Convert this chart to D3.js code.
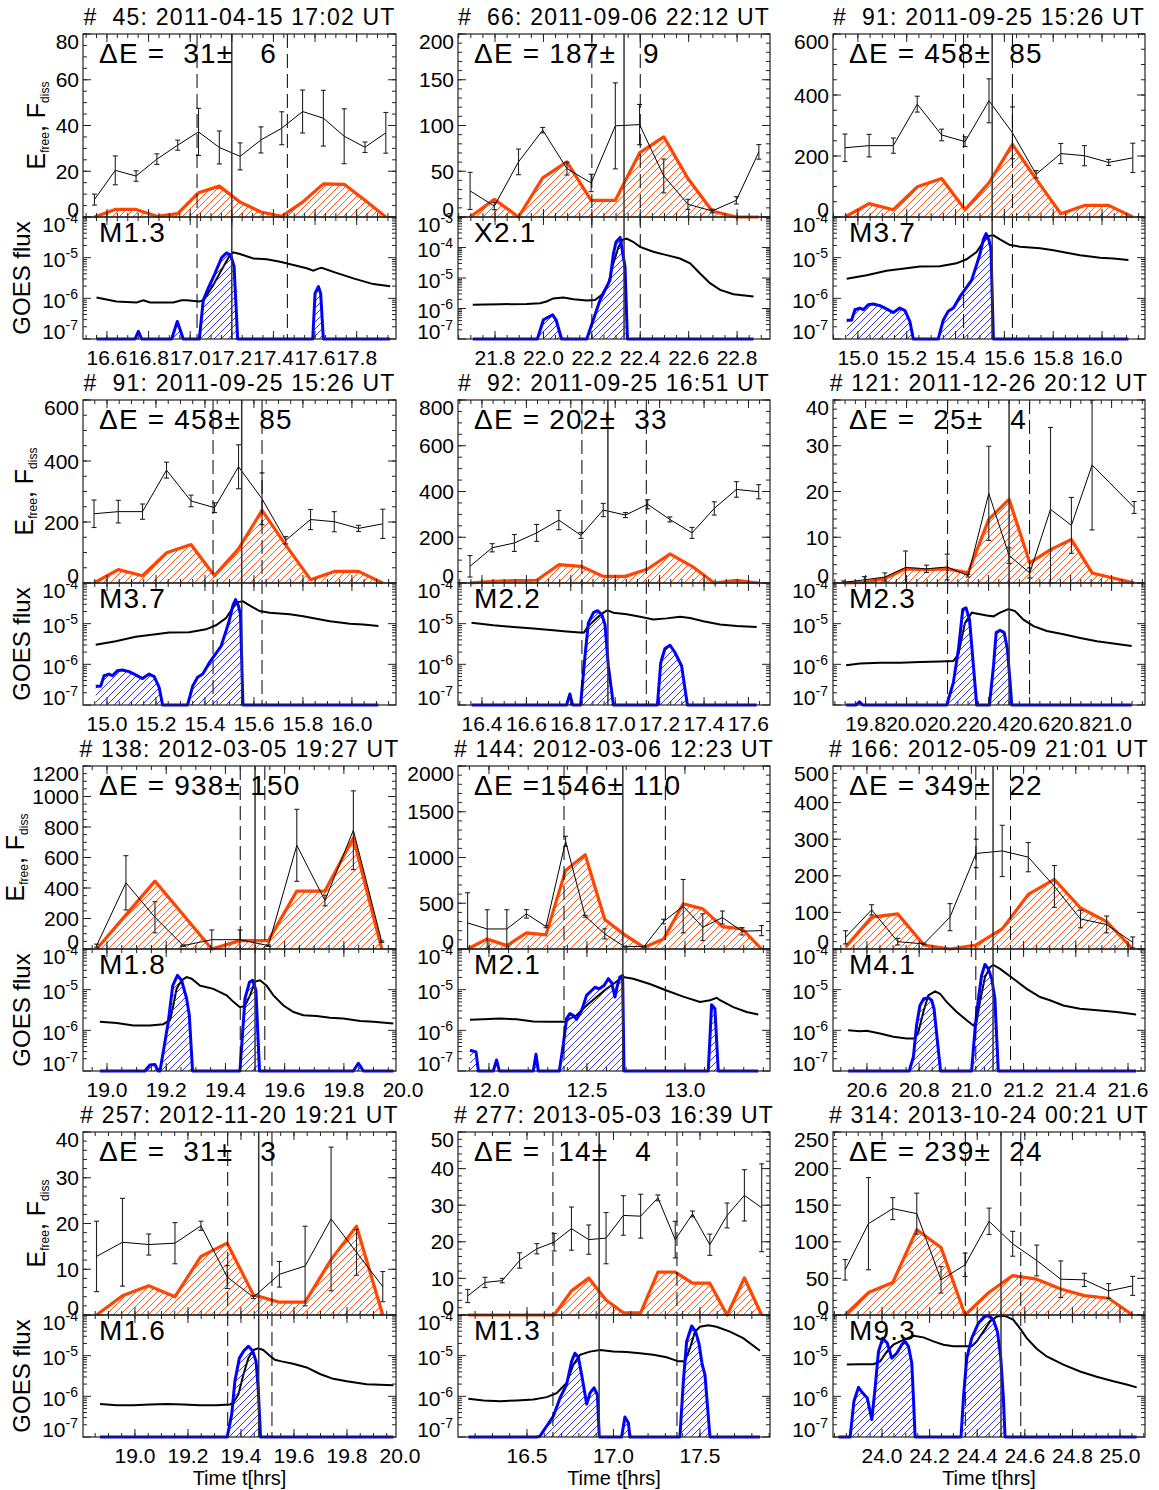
<!DOCTYPE html>
<html>
<head>
<meta charset="utf-8">
<script src="https://cdn.jsdelivr.net/npm/d3@7"></script>
<style>
  body { margin: 0; background: #fff; }
  svg text { font-family: "Liberation Sans", Arial, Helvetica, sans-serif; fill: #000; }
</style>
</head>
<body>
<svg id="chart" width="1159" height="1490"></svg>
<script>
// ---------------------------------------------------------------------------
// Flare events: free energy E_free (with errors), dissipated energy F_diss,
// GOES 1-8 A flux (log10 W m^-2) and its positive time derivative (log10).
// Times are in hours UT.
// ---------------------------------------------------------------------------

// #45  2011-04-15
const tE45 = [16.54,16.64,16.74,16.84,16.94,17.04,17.14,17.24,17.34,17.44,17.54,17.64,17.74,17.84,17.94];
const E45 = [7.6,20.4,17.9,25.3,31.4,37.2,30.4,26.5,33.7,38.8,46.1,43.2,35.3,30.5,36.8];
const Eerr45 = [2.4,6.3,2.3,2.3,2.2,10.3,7.2,5.9,5.7,7.2,9.4,12.2,12.0,2.3,8.9];
const F45 = [0,3.3,3.3,0.3,1.5,10.6,13.5,6.5,2.2,0.3,6.5,14.5,14.3,7.3,0];
const goesT45 = [16.550,16.646,16.743,16.775,16.807,16.919,16.959,16.983,17.044,17.066,17.111,17.151,17.191,17.207,17.239,17.304,17.368,17.432,17.496,17.560,17.592,17.616,17.632,17.688,17.784,17.880,17.961];
const goesL45 = [-5.98,-6.08,-6.10,-6.05,-6.10,-6.10,-6.05,-6.05,-6.08,-6.04,-5.67,-5.30,-4.94,-4.87,-4.91,-5.02,-5.04,-5.10,-5.18,-5.26,-5.32,-5.27,-5.25,-5.35,-5.51,-5.65,-5.70];
const derT45 = [16.550,16.735,16.751,16.767,16.911,16.938,16.967,17.044,17.063,17.087,17.119,17.151,17.175,17.195,17.211,17.219,17.228,17.589,17.600,17.616,17.627,17.640,17.961];
const derL45 = [-7,-7,-6.81,-7,-7,-6.57,-7,-7,-6.04,-5.75,-5.39,-5.00,-4.88,-4.94,-5.22,-6.04,-7,-7,-5.88,-5.71,-5.88,-7,-7];

// #66  2011-09-06
const tE66 = [21.697,21.797,21.897,21.997,22.097,22.197,22.297,22.397,22.497,22.597,22.697,22.797,22.890];
const E66 = [28.5,12.0,60.2,94.9,52.9,37.2,99.6,101,44.9,13.9,6.6,18.2,71.2];
const Eerr66 = [20.3,4,14,3,7,9.5,47,22,18.5,5.5,2,4,8];
const F66 = [0,19.3,0,42.7,60.2,18.2,18.2,70,87.6,42,6.6,0,0];
const goesT66 = [21.708,21.821,21.931,21.986,22.013,22.041,22.082,22.124,22.179,22.213,22.241,22.268,22.289,22.310,22.328,22.344,22.372,22.399,22.454,22.509,22.564,22.606,22.647,22.688,22.730,22.785,22.868];
const goesL66 = [-5.88,-5.86,-5.85,-5.83,-5.77,-5.67,-5.64,-5.70,-5.74,-5.72,-5.55,-5.17,-4.52,-3.98,-3.74,-3.71,-3.82,-3.98,-4.14,-4.25,-4.36,-4.52,-4.85,-5.17,-5.39,-5.53,-5.61];
const derT66 = [21.708,21.975,22.000,22.038,22.052,22.075,22.179,22.206,22.234,22.255,22.275,22.289,22.300,22.317,22.328,22.337,22.347,22.868];
const derL66 = [-7,-7,-6.37,-6.21,-6.37,-7,-7,-6.37,-5.72,-5.39,-5.07,-4.20,-3.82,-3.67,-4.20,-4.63,-7,-7];

// #91  2011-09-25
const tE91 = [14.947,15.046,15.145,15.243,15.343,15.439,15.537,15.633,15.730,15.831,15.928,16.027,16.126];
const E91 = [227,234,234,370,269,247,381,276,140,208,201,179,194];
const Eerr91 = [45,37,25,26,19,16,72,85,12,33,33,10,48];
const F91 = [0,44,24,99,126,24,112,238,124,11,38,38,0];
const goesT91 = [14.954,15.036,15.117,15.199,15.254,15.336,15.404,15.445,15.486,15.514,15.534,15.555,15.582,15.623,15.664,15.746,15.801,15.855,15.910,15.992,16.046,16.108];
const goesL91 = [-5.52,-5.43,-5.32,-5.26,-5.22,-5.21,-5.14,-5.04,-4.86,-4.61,-4.47,-4.45,-4.55,-4.69,-4.73,-4.77,-4.82,-4.88,-4.94,-5.00,-5.02,-5.06];
const derT91 = [14.954,14.974,14.988,15.008,15.022,15.042,15.063,15.090,15.117,15.145,15.172,15.193,15.213,15.227,15.329,15.350,15.370,15.391,15.418,15.445,15.466,15.486,15.500,15.514,15.525,15.536,15.545,15.555,16.108];
const derL91 = [-6.54,-6.54,-6.28,-6.24,-6.28,-6.16,-6.14,-6.18,-6.26,-6.35,-6.24,-6.30,-6.57,-7,-7,-6.53,-6.32,-6.24,-5.96,-5.73,-5.55,-5.18,-4.91,-4.55,-4.41,-4.55,-4.77,-7,-7];

// #92  2011-09-25
const tE92 = [16.346,16.446,16.546,16.646,16.746,16.846,16.946,17.046,17.146,17.246,17.346,17.446,17.546,17.646];
const E92 = [73,154,175,219,275,208,319,297,344,278,219,326,409,399];
const Eerr92 = [47,18,37,37,42,13,29,11,20,11,24,29,34,31];
const F92 = [0,7,10,12,80,73,29,29,61,127,73,0,12,0];
const goesT92 = [16.353,16.451,16.541,16.631,16.721,16.781,16.841,16.859,16.879,16.917,16.947,16.965,16.992,17.052,17.112,17.172,17.232,17.292,17.337,17.397,17.472,17.547,17.637];
const goesL92 = [-4.98,-5.04,-5.08,-5.12,-5.16,-5.19,-5.22,-5.22,-5.06,-4.86,-4.73,-4.67,-4.73,-4.77,-4.83,-4.90,-4.87,-4.83,-4.86,-4.94,-5.02,-5.06,-5.08];
const derT92 = [16.353,16.781,16.796,16.808,16.844,16.864,16.879,16.902,16.920,16.939,16.954,16.969,16.992,17.190,17.205,17.224,17.247,17.269,17.299,17.325,17.637];
const derL92 = [-7,-7,-6.73,-7,-7,-5.79,-4.98,-4.73,-4.68,-4.77,-5.02,-6.04,-7,-7,-5.96,-5.61,-5.53,-5.71,-6.04,-7,-7];

// #121  2011-12-26
const tE121 = [19.692,19.794,19.894,19.995,20.097,20.198,20.300,20.401,20.500,20.601,20.702,20.804,20.905,21.110];
const E121 = [0.15,0.7,1.3,3.4,3.1,3.5,1.6,19.6,6.0,2.2,16.1,12.6,25.8,16.5];
const Eerr121 = [0.3,0.7,0.9,3.6,0.8,2.8,0.3,10.3,1.7,1.1,17.9,6.1,14.2,1.3];
const tF121 = [19.692,19.794,19.894,19.995,20.097,20.198,20.300,20.401,20.500,20.601,20.702,20.804,20.905,21.007,21.110];
const F121 = [0,0.15,1.0,3.1,2.9,3.1,2.2,13.9,18.3,4.4,7.3,9.5,2.2,1.1,0];
const goesT121 = [19.705,19.773,19.871,19.968,20.066,20.163,20.228,20.253,20.285,20.318,20.359,20.391,20.424,20.456,20.497,20.529,20.570,20.619,20.684,20.765,20.847,20.928,21.009,21.098];
const goesL121 = [-6.02,-5.98,-5.96,-5.96,-5.94,-5.93,-5.92,-5.75,-4.98,-4.73,-4.77,-4.80,-4.82,-4.73,-4.64,-4.69,-4.90,-5.06,-5.18,-5.26,-5.35,-5.43,-5.49,-5.55];
const derT121 = [19.705,19.754,19.770,19.786,20.196,20.228,20.253,20.274,20.290,20.307,20.326,20.342,20.404,20.424,20.437,20.456,20.476,20.492,20.505,20.513,21.098];
const derL121 = [-7,-7,-6.92,-7,-7,-6.45,-5.63,-4.65,-4.61,-4.90,-6.04,-7,-7,-6.04,-5.22,-5.16,-5.22,-5.63,-6.45,-7,-7];

// #138  2012-03-05
const tE138 = [18.965,19.064,19.162,19.258,19.354,19.449,19.545,19.641,19.736,19.832,19.928];
const E138 = [22,434,208,22,61,61,22,680,318,779,48];
const Eerr138 = [10,178,102,5,64,64,5,236,35,258,5];
const F138 = [0,224,445,223,0,55,55,380,380,728,0];
const goesT138 = [18.976,19.033,19.089,19.145,19.190,19.213,19.224,19.235,19.252,19.269,19.286,19.314,19.337,19.359,19.404,19.427,19.449,19.466,19.483,19.500,19.517,19.539,19.562,19.596,19.630,19.663,19.708,19.753,19.798,19.855,19.900,19.967];
const goesL138 = [-5.79,-5.82,-5.88,-5.88,-5.85,-5.75,-5.39,-4.98,-4.77,-4.69,-4.73,-4.90,-4.94,-4.98,-5.14,-5.30,-5.43,-5.40,-5.14,-4.80,-4.77,-4.90,-5.14,-5.39,-5.55,-5.63,-5.65,-5.69,-5.71,-5.77,-5.79,-5.83];
const derT138 = [18.976,19.128,19.145,19.162,19.173,19.179,19.190,19.207,19.222,19.238,19.252,19.269,19.278,19.289,19.449,19.466,19.481,19.492,19.503,19.515,19.832,19.849,19.866,19.967];
const derL138 = [-7,-7,-6.85,-6.84,-7,-7,-6.53,-5.79,-4.90,-4.65,-4.77,-5.22,-5.63,-7,-7,-5.22,-4.82,-4.77,-5.02,-7,-7,-6.81,-7,-7];

// #144  2012-03-06
const tE144 = [11.891,11.991,12.091,12.191,12.291,12.391,12.491,12.591,12.691,12.791,12.891,12.991,13.091,13.191,13.291,13.391];
const E144 = [285,219,219,384,245,1177,358,165,26,26,300,468,238,344,194,201];
const Eerr144 = [330,210,210,46,12,55,10,55,5,5,25,292,146,71,40,55];
const F144 = [0,110,37,176,154,859,1031,322,157,18,110,494,439,245,219,0];
const goesT144 = [11.903,11.971,12.056,12.141,12.226,12.311,12.388,12.413,12.447,12.498,12.549,12.600,12.651,12.685,12.736,12.821,12.906,12.991,13.077,13.128,13.162,13.179,13.247,13.315,13.374];
const goesL144 = [-5.74,-5.73,-5.71,-5.73,-5.78,-5.79,-5.79,-5.71,-5.63,-5.39,-5.18,-4.98,-4.80,-4.69,-4.73,-4.86,-5.02,-5.17,-5.30,-5.26,-5.20,-5.26,-5.43,-5.55,-5.61];
const derT144 = [11.903,11.934,11.946,12.022,12.039,12.053,12.226,12.240,12.252,12.359,12.379,12.396,12.413,12.430,12.447,12.473,12.498,12.524,12.541,12.563,12.587,12.609,12.626,12.643,12.655,12.668,12.682,12.689,13.119,13.136,13.153,13.170,13.374];
const derL144 = [-6.49,-6.53,-7,-7,-6.73,-7,-7,-6.59,-7,-7,-6.36,-5.71,-5.59,-5.63,-5.73,-5.51,-5.14,-5.02,-4.94,-4.98,-4.90,-4.73,-4.83,-5.18,-4.90,-4.69,-4.65,-7,-7,-5.37,-5.47,-7,-7];

// #166  2012-05-09
const tE166 = [20.518,20.618,20.718,20.818,20.918,21.018,21.118,21.218,21.318,21.418,21.518,21.618];
const E166 = [32,107,20,14,87,261,268,251,171,82,67,18];
const Eerr166 = [18,14,9,2,37,39,70,40,57,24,23,15];
const F166 = [5,87,96,11,0,11,55,149,190,112,75,0];
const goesT166 = [20.528,20.573,20.599,20.650,20.701,20.752,20.784,20.797,20.816,20.835,20.861,20.880,20.905,20.944,20.982,21.007,21.020,21.033,21.052,21.071,21.084,21.110,21.161,21.212,21.263,21.301,21.352,21.416,21.493,21.557,21.631];
const goesL166 = [-6.00,-6.02,-6.01,-6.08,-6.16,-6.20,-6.20,-6.04,-5.55,-5.14,-5.04,-5.10,-5.30,-5.55,-5.75,-5.88,-5.79,-5.30,-4.69,-4.45,-4.39,-4.49,-4.73,-4.98,-5.18,-5.26,-5.39,-5.47,-5.51,-5.55,-5.61];
const derT166 = [20.528,20.762,20.778,20.790,20.803,20.818,20.835,20.848,20.857,20.873,20.882,21.001,21.014,21.027,21.039,21.052,21.065,21.078,21.090,21.103,21.631];
const derL166 = [-7,-7,-6.65,-5.88,-5.39,-5.22,-5.20,-5.26,-5.47,-6.45,-7,-7,-5.96,-5.22,-4.65,-4.38,-4.49,-4.73,-5.22,-7,-7];

// #257  2012-11-20
const tE257 = [18.855,18.953,19.052,19.151,19.249,19.348,19.447,19.545,19.642,19.740,19.836,19.935];
const E257 = [12.8,15.9,15.4,15.7,19.5,8.3,3.9,8.9,10.7,21.0,13.7,6.2];
const Eerr257 = [7.7,9.6,2.3,4.5,1.0,2.5,0.3,2.8,8.7,15.7,5.0,3.3];
const F257 = [0,4.2,6.4,4.0,12.8,15.7,4.4,2.8,2.8,12.1,19.4,0];
const goesT257 = [18.868,18.931,18.994,19.057,19.119,19.182,19.245,19.308,19.358,19.371,19.390,19.409,19.428,19.447,19.465,19.484,19.509,19.528,19.553,19.597,19.648,19.698,19.748,19.799,19.874,19.975];
const goesL257 = [-6.19,-6.22,-6.22,-6.20,-6.19,-6.20,-6.22,-6.22,-6.20,-6.16,-5.96,-5.47,-5.06,-4.86,-4.82,-4.86,-5.00,-5.10,-5.14,-5.20,-5.29,-5.45,-5.57,-5.63,-5.70,-5.73];
const derT257 = [18.868,19.348,19.365,19.377,19.394,19.411,19.428,19.444,19.457,19.465,19.474,19.975];
const derL257 = [-7,-7,-6.45,-5.63,-5.06,-4.88,-4.77,-4.88,-5.14,-5.79,-7,-7];

// #277  2013-05-03
const tE277 = [16.157,16.257,16.357,16.457,16.557,16.657,16.757,16.857,16.957,17.057,17.157,17.257,17.357,17.457,17.557,17.657,17.757,17.857];
const E277 = [5.2,8.9,9.4,14.9,18.1,19.9,23.6,20.6,21.0,27.2,27.0,32.0,20.6,27.6,19.2,27.2,32.7,29.3];
const Eerr277 = [1.8,1.4,0.6,2.1,1.4,2.4,5.9,4.0,7.0,5.4,6.0,0.8,5.0,0.8,2.9,3.4,7.0,12.0];
const F277 = [0,0,0,0,0,0,6.6,10.1,4.1,0.6,0.6,11.7,11.7,8.7,8.7,0,10.1,0];
const goesT277 = [16.161,16.248,16.344,16.440,16.537,16.614,16.671,16.729,16.768,16.806,16.864,16.922,16.999,17.076,17.153,17.230,17.307,17.375,17.413,17.442,17.471,17.500,17.548,17.596,17.673,17.750,17.847];
const goesL277 = [-6.06,-6.10,-6.12,-6.10,-6.08,-6.02,-5.92,-5.67,-5.22,-4.98,-4.90,-4.86,-4.90,-4.91,-4.94,-4.98,-5.04,-5.14,-5.14,-4.82,-4.41,-4.29,-4.25,-4.29,-4.41,-4.57,-4.88];
const derT277 = [16.161,16.556,16.575,16.614,16.652,16.691,16.729,16.758,16.777,16.797,16.816,16.845,16.864,16.887,16.907,16.918,17.047,17.066,17.086,17.095,17.384,17.404,17.423,17.452,17.475,17.494,17.513,17.529,17.558,17.847];
const derL277 = [-7,-7,-6.98,-6.73,-6.49,-6.04,-5.71,-5.14,-4.94,-5.04,-5.47,-6.19,-5.92,-5.79,-5.96,-7,-7,-6.51,-6.65,-7,-7,-5.63,-4.65,-4.27,-4.41,-4.69,-5.22,-5.47,-7,-7];

// #314  2013-10-24 (times continue past midnight of the previous day)
const tE314 = [23.845,23.943,24.045,24.146,24.248,24.349,24.450,24.549,24.650,24.751,24.850,24.952,25.053];
const E314 = [61.7,124.8,145.3,138.5,48,68.6,128,97.3,74.5,48.9,48,32.9,39.8];
const Eerr314 = [14,63,15,28,18,16,18,17,21,25,9,10,13];
const F314 = [0,30.6,44.3,116.5,92.3,0,31.1,53.9,48.9,35.6,26.5,22.9,0];
const goesT314 = [23.852,23.908,23.964,23.992,24.020,24.048,24.090,24.132,24.174,24.216,24.258,24.300,24.349,24.377,24.398,24.426,24.454,24.482,24.503,24.524,24.552,24.580,24.608,24.650,24.692,24.762,24.832,24.902,24.972,25.028,25.070];
const goesL314 = [-5.22,-5.21,-5.21,-5.14,-4.90,-4.73,-4.61,-4.51,-4.55,-4.65,-4.73,-4.77,-4.77,-4.77,-4.65,-4.41,-4.16,-4.04,-4.02,-4.04,-4.12,-4.33,-4.57,-4.83,-5.02,-5.22,-5.39,-5.52,-5.63,-5.71,-5.78];
const derT314 = [23.817,23.866,23.882,23.901,23.919,23.938,23.957,23.971,23.985,24.003,24.022,24.041,24.062,24.083,24.097,24.111,24.125,24.132,24.139,24.332,24.342,24.356,24.377,24.405,24.429,24.451,24.468,24.485,24.499,24.510,24.517,25.070];
const derL314 = [-7,-7,-6.12,-5.78,-5.92,-6.04,-6.57,-5.79,-4.90,-4.57,-4.69,-5.06,-4.94,-4.73,-4.65,-4.77,-5.18,-6.04,-7,-7,-6.04,-5.06,-4.57,-4.20,-4.04,-4.02,-4.12,-4.41,-5.06,-6.04,-7,-7];

// Panel-level lists (one entry per panel, row by row)
const panelEvent = [45, 66, 91, 91, 92, 121, 138, 144, 166, 257, 277, 314];
const panelDate = ["2011-04-15 17:02", "2011-09-06 22:12", "2011-09-25 15:26", "2011-09-25 15:26",
  "2011-09-25 16:51", "2011-12-26 20:12", "2012-03-05 19:27", "2012-03-06 12:23",
  "2012-05-09 21:01", "2012-11-20 19:21", "2013-05-03 16:39", "2013-10-24 00:21"];
const deltaE = [31, 187, 458, 458, 202, 25, 938, 1546, 349, 31, 14, 239];
const deltaEErr = [6, 9, 85, 85, 33, 4, 150, 110, 22, 3, 4, 24];
const flareClass = ["M1.3", "X2.1", "M3.7", "M3.7", "M2.2", "M2.3", "M1.8", "M2.1", "M4.1", "M1.6", "M1.3", "M9.3"];
const flareStart = [17.033, 22.2, 15.433, 15.433, 16.85, 20.2, 19.45, 12.383, 21.017, 19.35, 16.65, 24.35];
const flarePeak  = [17.2, 22.333, 15.55, 15.55, 16.967, 20.5, 19.5, 12.683, 21.083, 19.467, 16.917, 24.5];
const flareEnd   = [17.467, 22.4, 15.633, 15.633, 17.14, 20.6, 19.533, 12.9, 21.15, 19.517, 17.367, 24.583];
const timeRange = [[16.485,17.989],[21.647,22.936],[14.898,16.176],[14.902,16.180],[16.292,17.697],[19.641,21.163],
  [18.919,19.976],[11.842,13.434],[20.470,21.665],[18.804,19.985],[16.101,17.905],[23.794,25.105]];
const timeTicks = [
  [16.6,16.8,17.0,17.2,17.4,17.6,17.8], [21.8,22.0,22.2,22.4,22.6,22.8], [15.0,15.2,15.4,15.6,15.8,16.0],
  [15.0,15.2,15.4,15.6,15.8,16.0], [16.4,16.6,16.8,17.0,17.2,17.4,17.6], [19.8,20.0,20.2,20.4,20.6,20.8,21.0],
  [19.0,19.2,19.4,19.6,19.8,20.0], [12.0,12.5,13.0], [20.6,20.8,21.0,21.2,21.4,21.6],
  [19.0,19.2,19.4,19.6,19.8,20.0], [16.5,17.0,17.5], [24.0,24.2,24.4,24.6,24.8,25.0]];
const timeMinor = [0.05,0.05,0.05,0.05,0.05,0.05,0.05,0.1,0.05,0.05,0.1,0.05];
const energyTicks = [[0,20,40,60,80],[0,50,100,150,200],[0,200,400,600],[0,200,400,600],[0,200,400,600,800],
  [0,10,20,30,40],[0,200,400,600,800,1000,1200],[0,500,1000,1500,2000],[0,100,200,300,400,500],
  [0,10,20,30,40],[0,10,20,30,40,50],[0,50,100,150,200,250]];
const energyMinor = [5,10,50,50,50,2,50,100,20,2,2,10];
const fluxExponents = [[-7,-6,-5,-4],[-7,-6,-5,-4,-3],[-7,-6,-5,-4],[-7,-6,-5,-4],[-7,-6,-5,-4],[-7,-6,-5,-4],
  [-7,-6,-5,-4],[-7,-6,-5,-4],[-7,-6,-5,-4],[-7,-6,-5,-4],[-7,-6,-5,-4],[-7,-6,-5,-4]];

// Per-event lookup assembled from the arrays above
const EVENTS = {
  45:  {tE:tE45, E:E45, Eerr:Eerr45, tF:tE45, F:F45, gT:goesT45, gL:goesL45, dT:derT45, dL:derL45},
  66:  {tE:tE66, E:E66, Eerr:Eerr66, tF:tE66, F:F66, gT:goesT66, gL:goesL66, dT:derT66, dL:derL66},
  91:  {tE:tE91, E:E91, Eerr:Eerr91, tF:tE91, F:F91, gT:goesT91, gL:goesL91, dT:derT91, dL:derL91},
  92:  {tE:tE92, E:E92, Eerr:Eerr92, tF:tE92, F:F92, gT:goesT92, gL:goesL92, dT:derT92, dL:derL92},
  121: {tE:tE121, E:E121, Eerr:Eerr121, tF:tF121, F:F121, gT:goesT121, gL:goesL121, dT:derT121, dL:derL121},
  138: {tE:tE138, E:E138, Eerr:Eerr138, tF:tE138, F:F138, gT:goesT138, gL:goesL138, dT:derT138, dL:derL138},
  144: {tE:tE144, E:E144, Eerr:Eerr144, tF:tE144, F:F144, gT:goesT144, gL:goesL144, dT:derT144, dL:derL144},
  166: {tE:tE166, E:E166, Eerr:Eerr166, tF:tE166, F:F166, gT:goesT166, gL:goesL166, dT:derT166, dL:derL166},
  257: {tE:tE257, E:E257, Eerr:Eerr257, tF:tE257, F:F257, gT:goesT257, gL:goesL257, dT:derT257, dL:derL257},
  277: {tE:tE277, E:E277, Eerr:Eerr277, tF:tE277, F:F277, gT:goesT277, gL:goesL277, dT:derT277, dL:derL277},
  314: {tE:tE314, E:E314, Eerr:Eerr314, tF:tE314, F:F314, gT:goesT314, gL:goesL314, dT:derT314, dL:derL314}
};

// ---------------------------------------------------------------------------
// Layout and style
// ---------------------------------------------------------------------------
const colLeft = [83, 458, 833], colRight = [396, 770, 1145];
const rowTop0 = 34, rowPitch = 366, topH = 183, botH = 122;
const RED = "#ff4500", BLUE = "#0000ff", FRAME = "#222";

const svg = d3.select("#chart");
const defs = svg.append("defs");

function makeHatch(id, color) {
  const p = defs.append("pattern").attr("id", id)
    .attr("patternUnits", "userSpaceOnUse").attr("width", 7).attr("height", 7);
  p.append("path").attr("d", "M-1,1 l2,-2 M0,7 l7,-7 M6,8 l2,-2")
    .attr("stroke", color).attr("stroke-width", 0.9).attr("fill", "none");
}
makeHatch("hatchRed", RED);
makeHatch("hatchBlue", "#2020f0");

const fmt1 = d3.format(".1f");

function tickLine(g, x1, y1, x2, y2, w) {
  g.append("line").attr("x1", x1).attr("y1", y1).attr("x2", x2).attr("y2", y2)
    .attr("stroke", FRAME).attr("stroke-width", w || 1);
}

panelEvent.forEach((ev, i) => {
  const d = EVENTS[ev];
  const row = Math.floor(i / 3), col = i % 3;
  const L = colLeft[col], R = colRight[col];
  const T = rowTop0 + row * rowPitch, M = T + topH, B = M + botH;
  const expo = fluxExponents[i];

  const x = d3.scaleLinear().domain(timeRange[i]).range([L, R]);
  const eT = energyTicks[i];
  const yE = d3.scaleLinear().domain([0, eT[eT.length - 1]]).range([M, T]);
  const yG = d3.scaleLog().domain([Math.pow(10, expo[0]), Math.pow(10, expo[expo.length - 1])]).range([B, M]);

  const g = svg.append("g");
  const cid = "clip" + i;
  defs.append("clipPath").attr("id", cid).append("rect")
    .attr("x", L).attr("y", T).attr("width", R - L).attr("height", B - T + 3);
  const plot = g.append("g").attr("clip-path", `url(#${cid})`);

  // ---- upper panel: dissipated energy (hatched) and free energy ----
  const fPts = d.tF.map((t, k) => [t, d.F[k]]);
  plot.append("path").datum(fPts)
    .attr("d", d3.area().x(p => x(p[0])).y0(M).y1(p => yE(p[1])))
    .attr("fill", "url(#hatchRed)");
  plot.append("path").datum(fPts)
    .attr("d", d3.line().x(p => x(p[0])).y(p => yE(p[1])))
    .attr("fill", "none").attr("stroke", RED).attr("stroke-width", 3.2).attr("stroke-linejoin", "round");

  const ePts = d.tE.map((t, k) => [t, d.E[k], d.Eerr[k]]);
  plot.append("path").datum(ePts)
    .attr("d", d3.line().x(p => x(p[0])).y(p => yE(p[1])))
    .attr("fill", "none").attr("stroke", "#000").attr("stroke-width", 1);
  const eb = plot.append("g").attr("stroke", "#222").attr("stroke-width", 1.1);
  ePts.forEach(p => {
    const xx = x(p[0]);
    const lo = yE(Math.max(0, p[1] - p[2])), hi = yE(p[1] + p[2]);
    eb.append("line").attr("x1", xx).attr("x2", xx).attr("y1", lo).attr("y2", hi);
    eb.append("line").attr("x1", xx - 2.5).attr("x2", xx + 2.5).attr("y1", lo).attr("y2", lo);
    eb.append("line").attr("x1", xx - 2.5).attr("x2", xx + 2.5).attr("y1", hi).attr("y2", hi);
  });

  // ---- lower panel: GOES flux and its positive derivative ----
  const gPts = d.gT.map((t, k) => [t, Math.pow(10, d.gL[k])]);
  plot.append("path").datum(gPts)
    .attr("d", d3.line().x(p => x(p[0])).y(p => yG(p[1])))
    .attr("fill", "none").attr("stroke", "#000").attr("stroke-width", 2);

  const dPts = d.dT.map((t, k) => [t, Math.pow(10, d.dL[k])]);
  plot.append("path").datum(dPts)
    .attr("d", d3.area().x(p => x(p[0])).y0(B).y1(p => yG(p[1])))
    .attr("fill", "url(#hatchBlue)");
  plot.append("path").datum(dPts)
    .attr("d", d3.line().x(p => x(p[0])).y(p => yG(p[1])))
    .attr("fill", "none").attr("stroke", BLUE).attr("stroke-width", 3).attr("stroke-linejoin", "round");

  // ---- flare start / peak / end markers ----
  [flareStart[i], flareEnd[i]].forEach(t => {
    g.append("line").attr("x1", x(t)).attr("x2", x(t)).attr("y1", T).attr("y2", B)
      .attr("stroke", "#000").attr("stroke-width", 1).attr("stroke-dasharray", "14,6");
  });
  g.append("line").attr("x1", x(flarePeak[i])).attr("x2", x(flarePeak[i])).attr("y1", T).attr("y2", B)
    .attr("stroke", "#333").attr("stroke-width", 1.5);

  // ---- frames ----
  g.append("rect").attr("x", L).attr("y", T).attr("width", R - L).attr("height", topH)
    .attr("fill", "none").attr("stroke", FRAME).attr("stroke-width", 1.2);
  g.append("rect").attr("x", L).attr("y", M).attr("width", R - L).attr("height", botH)
    .attr("fill", "none").attr("stroke", FRAME).attr("stroke-width", 1.2);

  const ticks = g.append("g");
  const [t0, t1] = timeRange[i];
  const inX = t => t >= t0 - 1e-9 && t <= t1 + 1e-9;
  // time ticks on top/bottom edges of both sub-panels
  const minorT = d3.range(Math.ceil(t0 / timeMinor[i]) * timeMinor[i], t1, timeMinor[i]);
  minorT.forEach(t => {
    const xx = x(t);
    [[T, 1], [M, -1], [M, 1], [B, -1]].forEach(([yy, s]) => tickLine(ticks, xx, yy, xx, yy + s * 4));
  });
  timeTicks[i].filter(inX).forEach(t => {
    const xx = x(t);
    [[T, 1], [M, -1], [M, 1], [B, -1]].forEach(([yy, s]) => tickLine(ticks, xx, yy, xx, yy + s * 8));
  });
  // energy ticks
  const eMax = eT[eT.length - 1];
  d3.range(0, eMax + 1e-9, energyMinor[i]).forEach(v => {
    const yy = yE(v);
    tickLine(ticks, L, yy, L + 4, yy); tickLine(ticks, R, yy, R - 4, yy);
  });
  eT.forEach(v => {
    const yy = yE(v);
    tickLine(ticks, L, yy, L + 8, yy); tickLine(ticks, R, yy, R - 8, yy);
  });
  // flux ticks
  for (let k = 0; k < expo.length - 1; k++) {
    for (let m = 2; m <= 9; m++) {
      const yy = yG(m * Math.pow(10, expo[k]));
      tickLine(ticks, L, yy, L + 4, yy); tickLine(ticks, R, yy, R - 4, yy);
    }
  }
  expo.forEach(e => {
    const yy = yG(Math.pow(10, e));
    tickLine(ticks, L, yy, L + 8, yy); tickLine(ticks, R, yy, R - 8, yy);
  });

  // ---- tick labels ----
  const labTop = g.append("g").style("font-size", "21px").attr("text-anchor", "end");
  eT.forEach((v, k) => {
    let c = yE(v);
    c = Math.max(T + 7.5, Math.min(M - 7.5, c));
    labTop.append("text").attr("x", L - 4).attr("y", c + 7.5).text(v);
  });
  const labBot = g.append("g").style("font-size", "21px").attr("text-anchor", "end");
  expo.forEach(e => {
    let c = yG(Math.pow(10, e)) + 2;
    c = Math.max(M + 7.5, Math.min(B - 7.5, c));
    const tx = labBot.append("text").attr("x", L - 5).attr("y", c + 7.5);
    tx.append("tspan").text("10");
    tx.append("tspan").attr("dy", -9).style("font-size", "14px").text(String(e));
  });
  const labX = g.append("g").style("font-size", "21px").attr("text-anchor", "middle");
  timeTicks[i].forEach(t => {
    labX.append("text").attr("x", x(t)).attr("y", B + 26).text(fmt1(t));
  });

  // ---- titles and annotations ----
  g.append("text").attr("x", (L + R) / 2).attr("y", T - 9).attr("text-anchor", "middle")
    .style("font-size", "23px").style("letter-spacing", "1.2px").style("white-space", "pre")
    .text(`# ${String(ev).padStart(3, " ")}: ${panelDate[i]} UT`);

  g.append("text").attr("x", L + 16).attr("y", T + 29)
    .style("font-size", "28px").style("letter-spacing", "1.2px").style("white-space", "pre")
    .text(`\u0394E =${String(deltaE[i]).padStart(4, " ")}\u00b1${String(deltaEErr[i]).padStart(4, " ")}`);

  g.append("text").attr("x", L + 16).attr("y", M + 25)
    .style("font-size", "28px").style("letter-spacing", "1.2px")
    .text(flareClass[i]);

  // y-axis titles on the first column
  if (col === 0) {
    const bbT = labTop.node().getBBox();
    const et = g.append("text")
      .attr("transform", `translate(${Math.max(bbT.x - 11, 24)},${(T + M) / 2}) rotate(-90)`)
      .attr("text-anchor", "middle").style("font-size", "25px");
    et.append("tspan").text("E");
    et.append("tspan").attr("dy", 4).style("font-size", "12px").text("free");
    et.append("tspan").attr("dy", -4).text(", F");
    et.append("tspan").attr("dy", 4).style("font-size", "12px").text("diss");

    const bbB = labBot.node().getBBox();
    g.append("text")
      .attr("transform", `translate(${bbB.x - 12},${(M + B) / 2}) rotate(-90)`)
      .attr("text-anchor", "middle").style("font-size", "24px")
      .text("GOES flux");
  }

  // time axis title on the bottom row
  if (row === 3) {
    g.append("text").attr("x", (L + R) / 2).attr("y", B + 48).attr("text-anchor", "middle")
      .style("font-size", "20px").text("Time t[hrs]");
  }
});
</script>
</body>
</html>
